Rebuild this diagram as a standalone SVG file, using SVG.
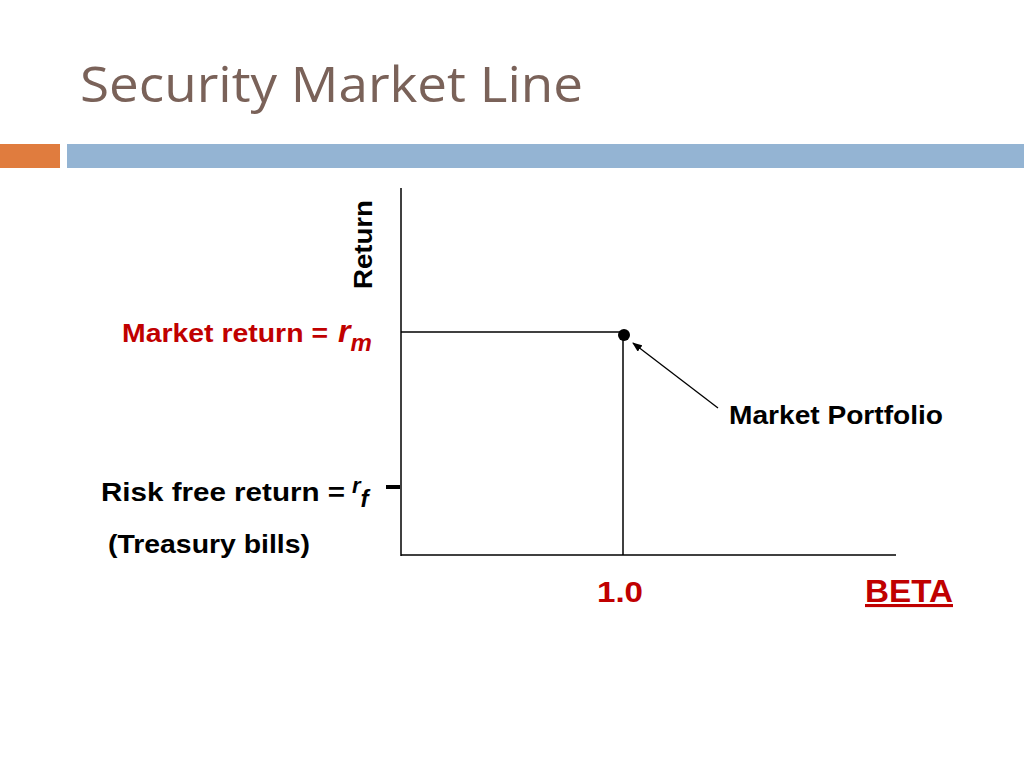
<svg xmlns="http://www.w3.org/2000/svg" width="1024" height="768" viewBox="0 0 1024 768">
<style>
.b{font-family:"Liberation Sans",Arial,sans-serif;font-weight:bold}
.ax{stroke:#000;stroke-width:1.5;fill:none}
</style>
<defs><marker id="ah" markerWidth="10" markerHeight="8" refX="9" refY="4" orient="auto" markerUnits="userSpaceOnUse"><path d="M0,0 L10,4 L0,8 z" fill="#000"/></marker></defs>
<rect width="1024" height="768" fill="#fff"/>
<text x="80" y="102" font-family="Open Sans,'Noto Sans',sans-serif" font-size="50" fill="#7a6259" textLength="503" lengthAdjust="spacingAndGlyphs">Security Market Line</text>
<rect x="0" y="144" width="60" height="24" fill="#e07c3e"/>
<rect x="67" y="144" width="957" height="24" fill="#94b4d3"/>
<g id="axes">
<line class="ax" x1="401" y1="188" x2="401" y2="556"/>
<line class="ax" x1="401" y1="555" x2="896" y2="555"/>
<line x1="386" y1="487" x2="400" y2="487" stroke="#000" stroke-width="4"/>
</g>
<g id="connectors">
<line class="ax" x1="401" y1="332" x2="624" y2="332"/>
<line class="ax" x1="623" y1="336" x2="623" y2="555"/>
<line stroke="#000" stroke-width="1.3" x1="718" y1="408" x2="633" y2="343" marker-end="url(#ah)"/>
</g>
<g id="market-portfolio"><circle cx="624" cy="335" r="6" fill="#000"/>
<text class="b" x="729" y="424" font-size="25" textLength="214" lengthAdjust="spacingAndGlyphs">Market Portfolio</text></g>
<text class="b" transform="translate(372,289) rotate(-90)" font-size="25" textLength="89" lengthAdjust="spacingAndGlyphs">Return</text>
<text class="b" x="122" y="342" font-size="25" fill="#c00000"><tspan textLength="206" lengthAdjust="spacingAndGlyphs">Market return =</tspan><tspan x="338" font-style="italic" font-size="32">r</tspan><tspan font-style="italic" font-size="24" dy="9">m</tspan></text>
<text class="b" x="101" y="501" font-size="25"><tspan textLength="244" lengthAdjust="spacingAndGlyphs">Risk free return  =</tspan><tspan x="352" font-style="italic" font-size="22" dy="-8">r</tspan><tspan font-style="italic" font-size="24" dy="14">f</tspan></text>
<text class="b" x="108" y="553" font-size="25" textLength="202" lengthAdjust="spacingAndGlyphs">(Treasury bills)</text>
<text class="b" x="597" y="602" font-size="29" fill="#c00000" textLength="46" lengthAdjust="spacingAndGlyphs">1.0</text>
<text class="b" x="865" y="602" font-size="31" fill="#c00000" text-decoration="underline" textLength="88" lengthAdjust="spacingAndGlyphs">BETA</text>
</svg>
